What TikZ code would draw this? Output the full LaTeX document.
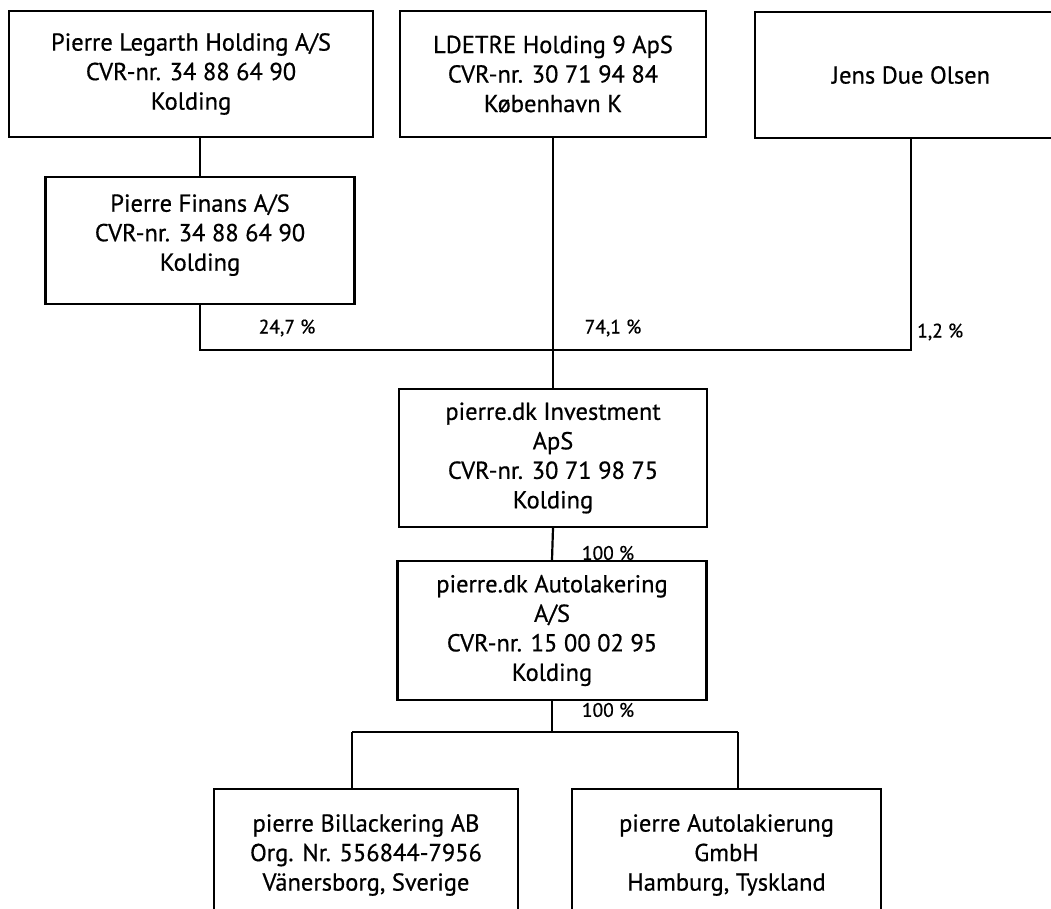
\documentclass[tikz,border=0pt]{standalone}
\usepackage{fontspec}
\setmainfont{PT Sans}
\newfontfamily\boxfont[FakeBold=0.6]{PT Sans}
\begin{document}
\begin{tikzpicture}[x=1pt,y=-1pt,
  box/.style={draw,line width=2.2pt,align=center,inner sep=0pt,font=\boxfont\fontsize{24.5}{29.5}\selectfont},
  pct/.style={inner sep=0pt,font=\boxfont\fontsize{19.5}{22}\selectfont},
  conn/.style={line width=2.2pt}]
\useasboundingbox (0,0) rectangle (1051,909);
\clip (0,0) rectangle (1051,909);
\node[box,minimum width=364pt,minimum height=126pt] (A) at (191,74) {Pierre Legarth Holding A/S\\CVR-nr. 34 88 64 90\\Kolding};
\node[box,minimum width=306pt,minimum height=126pt] (B) at (553,74) {LDETRE Holding 9 ApS\\CVR-nr. 30 71 94 84\\København K};
\node[box,minimum width=312pt,minimum height=126pt] (C) at (911,75) {Jens Due Olsen};
\node[box,minimum width=309pt,minimum height=127pt] (F) at (200,240.5) {Pierre Finans A/S\\CVR-nr. 34 88 64 90\\Kolding\\[-13.5pt]\mbox{}};
\node[box,minimum width=308pt,minimum height=138pt] (I) at (553,458) {pierre.dk Investment\\ApS\\CVR-nr. 30 71 98 75\\Kolding};
\node[box,minimum width=309pt,minimum height=139pt] (U) at (552,630.5) {pierre.dk Autolakering\\A/S\\CVR-nr. 15 00 02 95\\Kolding};
\node[box,minimum width=304pt,minimum height=132pt] (L) at (366,855) {pierre Billackering AB\\Org. Nr. 556844-7956\\Vänersborg, Sverige};
\node[box,minimum width=309pt,minimum height=132pt] (R) at (726.5,855) {pierre Autolakierung\\GmbH\\Hamburg, Tyskland};
\coordinate (busL) at (200,350);
\coordinate (busR) at (911,350);
\coordinate (jn) at (552,732);
\coordinate (tl) at (352,732);
\coordinate (tr) at (738,732);
\draw[conn] (F.north) -- (F.north |- A.south);
\draw[conn] (F.south) -- (busL) -- (busR) -- (C.south);
\draw[conn] (B.south) -- (I.north);
\draw[conn] (I.south) -- (U.north);
\draw[conn] (U.south) -- (jn);
\draw[conn] (tl) -- (tr);
\draw[conn] (tl) -- (tl |- L.north);
\draw[conn] (tr) -- (tr |- R.north);
\node[pct] (p1) at (287,328) {24,7 \%};
\node[pct] (p2) at (613,328) {74,1 \%};
\node[pct,anchor=west] (p3) at (917,332) {1,2 \%};
\node[pct] (p4) at (608,553) {100 \%};
\node[pct] (p5) at (608,710) {100 \%};
\end{tikzpicture}
\end{document}
